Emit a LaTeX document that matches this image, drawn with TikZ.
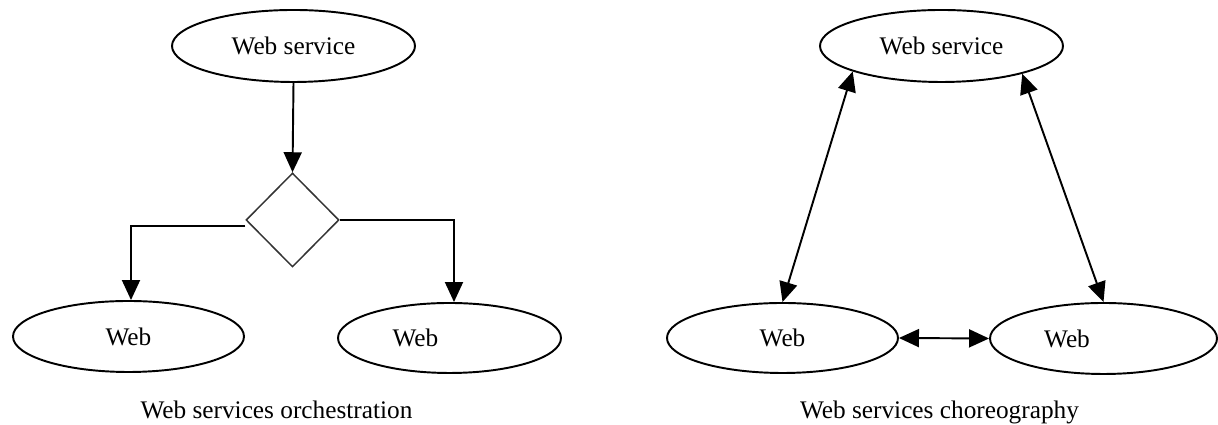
\documentclass[tikz,border=0pt]{standalone}
\usepackage{fontspec}
\setmainfont{Liberation Serif}
\usetikzlibrary{shapes.geometric,arrows.meta}

\begin{document}
\begin{tikzpicture}[thick, every node/.style={font=\Large},
    svc/.style={ellipse, draw, line width=1.1pt, inner sep=0pt},
    tip/.style={-{Triangle[length=0.4cm,width=0.36cm]}, line width=1.1pt},
    twotip/.style={{Triangle[length=0.4cm,width=0.36cm]}-{Triangle[length=0.4cm,width=0.36cm]}, line width=1.1pt}]

\useasboundingbox (0,0) rectangle (24.36,8.5);

% Orchestration nodes
\node[svc, minimum width=4.86cm, minimum height=1.44cm] (wsA) at (5.87,7.58) {Web service};
\node[diamond, draw, draw=black!80, line width=0.85pt, inner sep=0pt, minimum width=1.86cm, minimum height=1.88cm] (dec) at (5.85,4.1) {};
\node[svc, minimum width=4.62cm, minimum height=1.42cm] (wA1) at (2.57,1.77) {Web};
\node[svc, minimum width=4.46cm, minimum height=1.4cm] (wA2) at (8.99,1.74) {Web\hspace*{1.36cm}};

% Orchestration arrows
\draw[tip] (wsA.south) -- (dec.north);
\draw[tip] ([yshift=-0.12cm]dec.west) -| ([xshift=0.05cm]wA1.north);
\draw[tip] (dec.east) -| ([xshift=0.09cm]wA2.north);

% Choreography nodes
\node[svc, minimum width=4.86cm, minimum height=1.44cm] (wsB) at (18.83,7.58) {Web service};
\node[svc, minimum width=4.62cm, minimum height=1.4cm] (wB1) at (15.65,1.74) {Web};
\node[svc, minimum width=4.54cm, minimum height=1.42cm] (wB2) at (22.07,1.73) {Web\hspace*{1.46cm}};

% Choreography arrows
\draw[twotip] (wsB.196.8) -- (wB1.north);
\draw[twotip] (wsB.341) -- (wB2.north);
\draw[twotip] (wB1.east) -- (wB2.west);

% Captions
\node[anchor=base] (capA) at (5.53,0.12) {Web services orchestration};
\node[anchor=base] (capB) at (18.79,0.12) {Web services choreography};

\end{tikzpicture}
\end{document}
